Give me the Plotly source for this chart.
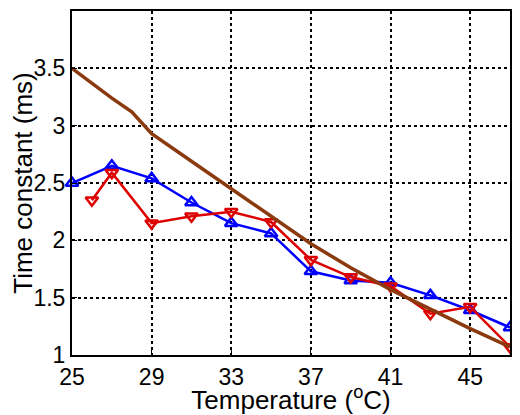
import plotly.graph_objects as go

blue_x = [25, 27, 29, 31, 33, 35, 37, 39, 41, 43, 45, 47]
blue_y = [2.50, 2.65, 2.54, 2.33, 2.15, 2.06, 1.73, 1.65, 1.63, 1.52, 1.39, 1.24]
red_x = [26, 27, 29, 31, 33, 35, 37, 39, 41, 43, 45, 47]
red_y = [2.35, 2.59, 2.15, 2.21, 2.25, 2.16, 1.83, 1.68, 1.60, 1.36, 1.42, 1.07]
fit_x = [25, 27, 28, 29, 31, 33, 35, 37, 39, 41, 43, 45, 47]
fit_y = [3.50, 3.24, 3.12, 2.93, 2.69, 2.45, 2.21, 1.97, 1.76, 1.57, 1.40, 1.23, 1.07]
xticks = [25, 29, 33, 37, 41, 45]
yticks = [1, 1.5, 2, 2.5, 3, 3.5, 4]

fig = go.Figure()
fig.add_trace(go.Scatter(x=blue_x, y=blue_y, mode="lines+markers", cliponaxis=False,
    line=dict(color="#0000ff", width=2.5),
    marker=dict(symbol="triangle-up-open", size=11, color="#0000ff", line=dict(width=2.5))))
fig.add_trace(go.Scatter(x=red_x, y=red_y, mode="lines+markers", cliponaxis=False,
    line=dict(color="#dd0000", width=2.5),
    marker=dict(symbol="triangle-down-open", size=11, color="#dd0000", line=dict(width=2.5))))
fig.add_trace(go.Scatter(x=fit_x, y=fit_y, mode="lines", line=dict(color="#8b3a0f", width=3.5)))

font = "Arial, Liberation Sans"
ax = dict(showline=True, linecolor="black", linewidth=2, mirror=True,
          showgrid=True, gridcolor="black", griddash="dot", gridwidth=1.5,
          ticks="inside", ticklen=5, tickcolor="black", zeroline=False,
          tickfont=dict(family=font, size=23, color="black"))
fig.update_xaxes(range=[25, 47], tickvals=xticks, **ax,
    title=dict(text="Temperature (<sup>o</sup>C)", font=dict(family=font, size=26, color="black"), standoff=2))
fig.update_yaxes(range=[1, 4], tickvals=yticks, ticktext=[str(v) for v in yticks], **ax,
    title=dict(text="Time constant (ms)", font=dict(family=font, size=26, color="black"), standoff=4))
fig.update_layout(width=505, height=407, margin=dict(l=64, r=1, t=2, b=60),
    plot_bgcolor="white", paper_bgcolor="white", showlegend=False)
fig.write_html("out.html")
